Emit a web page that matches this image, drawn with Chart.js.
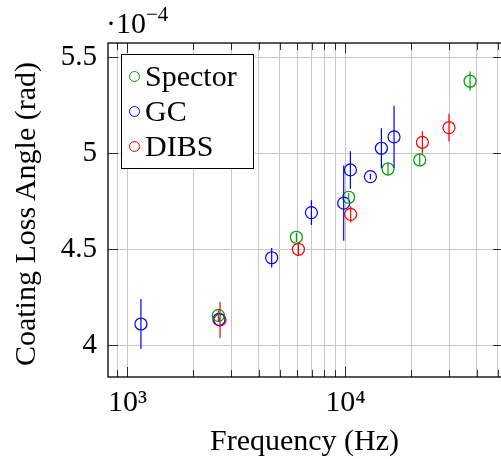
<!DOCTYPE html>
<html>
<head>
<meta charset="utf-8">
<script src="https://cdn.jsdelivr.net/npm/chart.js@4/dist/chart.umd.min.js"></script>
<style>
  html, body { margin:0; padding:0; background:#fff; }
  body { width:501px; height:459px; overflow:hidden; }
  #wrap { position:relative; width:520px; height:459px; }
  canvas { position:absolute; left:0; top:0; }
  .t { position:absolute; font-family:"Liberation Serif", "DejaVu Serif", serif; color:#000; white-space:nowrap; }
  .mk { position:absolute; width:9px; height:9px; border-radius:50%; border:1.2px solid; background:transparent; }
</style>
</head>
<body>
<div id="wrap">
  <canvas id="c" width="520" height="459"></canvas>
  <div class="t" id="expo" style="left:106px; top:3px; font-size:30px; line-height:40px;">·10<span style="font-size:21px; position:relative; top:-12px;">−4</span></div>
  <div class="t" style="left:104.5px; top:420px; width:400px; height:40px; font-size:30px; line-height:40px; text-align:center;">Frequency (Hz)</div>
  <div class="t" style="left:-174.6px; top:194px; width:400px; height:40px; font-size:30px; line-height:40px; text-align:center; transform:rotate(-90deg);">Coating Loss Angle (rad)</div>
  <div id="legend" style="position:absolute; left:121px; top:54px; width:131px; height:113px; border:1.2px solid #000; background:#fff;"></div>
</div>
<script>
// ---- data (loss angle in units of 1e-4 rad) ----
const freqSpector = [2615, 5957, 10350, 15680, 21920, 37290];
const lossSpector = [4.156, 4.5625, 4.771, 4.918, 4.965, 5.375];
const errSpector  = [0.03, 0.024, 0.022, 0.035, 0.03, 0.05];

const freqGC = [1154, 2630, 4590, 6982, 9820, 10540, 13020, 14620, 16710];
const lossGC = [4.111, 4.135, 4.456, 4.691, 4.740, 4.913, 4.878, 5.026, 5.085];
const errGC  = [0.13, 0.01, 0.051, 0.064, 0.196, 0.098, 0.015, 0.104, 0.162];

const freqDIBS = [2661, 6087, 10570, 22540, 29850];
const lossDIBS = [4.132, 4.5, 4.682, 5.057, 5.133];
const errDIBS  = [0.094, 0.035, 0.043, 0.058, 0.072];

const seriesNames = ['Spector', 'GC', 'DIBS'];

const xMajorTicks = [1000, 10000];
const xTickLabels = ['10³', '10⁴'];
const xMinorTicks = [900, 2000, 3000, 4000, 5000, 6000, 7000, 8000, 9000, 20000, 30000, 40000, 50000];
const yTicks = [4, 4.5, 5, 5.5];
const yTickLabels = ['4', '4.5', '5', '5.5'];

const xMin = 815, xMax = 52800;
const yMin = 3.835, yMax = 5.574;

// ---- styling ----
const colors = ['rgb(0,160,0)', 'rgb(0,0,255)', 'rgb(255,0,0)'];
const FONT = '"Liberation Serif", "DejaVu Serif", serif';
const gridColor = 'rgb(200,200,200)';

function pts(f, v) { return f.map((x, i) => ({ x: x, y: v[i] })); }
function errPts(f, v, e) {
  const out = [];
  f.forEach((x, i) => {
    out.push({ x: x, y: v[i] - e[i] });
    out.push({ x: x, y: v[i] + e[i] });
    out.push({ x: x, y: null });
  });
  return out;
}

const groups = [
  [freqSpector, lossSpector, errSpector],
  [freqGC, lossGC, errGC],
  [freqDIBS, lossDIBS, errDIBS]
];

const datasets = [];
groups.forEach((g, k) => {
  datasets.push({
    type: 'line', label: seriesNames[k] + ' err', data: errPts(g[0], g[1], g[2]),
    borderColor: colors[k], borderWidth: 1.2, pointRadius: 0, showLine: true, spanGaps: false, fill: false
  });
});
groups.forEach((g, k) => {
  datasets.push({
    type: 'scatter', label: seriesNames[k], data: pts(g[0], g[1]),
    borderColor: colors[k], backgroundColor: 'rgba(0,0,0,0)', pointStyle: 'circle',
    pointRadius: 6, borderWidth: 1.2
  });
});

const allXTicks = xMinorTicks.concat(xMajorTicks).sort((a, b) => a - b);

const framePlugin = {
  id: 'frame',
  afterDatasetsDraw(chart) {
    const ctx = chart.ctx, a = chart.chartArea;
    const xs = chart.scales.x, ys = chart.scales.y;
    ctx.save();
    ctx.strokeStyle = 'rgba(0,0,0,0.8)';
    ctx.lineWidth = 1;
    ctx.beginPath();
    allXTicks.forEach(v => {
      const len = xMajorTicks.includes(v) ? 10 : 7;
      const px = Math.round(xs.getPixelForValue(v)) + 0.5;
      ctx.moveTo(px, a.bottom); ctx.lineTo(px, a.bottom - len);
      ctx.moveTo(px, a.top); ctx.lineTo(px, a.top + len);
    });
    yTicks.forEach(v => {
      const py = Math.round(ys.getPixelForValue(v)) + 0.5;
      ctx.moveTo(a.left, py); ctx.lineTo(a.left + 10, py);
      ctx.moveTo(a.right, py); ctx.lineTo(a.right - 10, py);
    });
    ctx.stroke();
    ctx.strokeStyle = '#000';
    ctx.lineWidth = 1.3;
    ctx.strokeRect(a.left, a.top, a.right - a.left, a.bottom - a.top);
    ctx.restore();
  }
};

new Chart(document.getElementById('c'), {
  data: { datasets: datasets },
  options: {
    responsive: false,
    animation: false,
    devicePixelRatio: 1,
    events: [],
    layout: { padding: { left: 0, right: 17, top: 43, bottom: 0 } },
    plugins: { legend: { display: false }, tooltip: { enabled: false }, title: { display: false } },
    scales: {
      x: {
        type: 'logarithmic', position: 'bottom', min: xMin, max: xMax,
        afterBuildTicks: s => { s.ticks = allXTicks.map(v => ({ value: v })); },
        afterFit: s => { s.height = 82; },
        grid: { color: gridColor, lineWidth: 1, drawTicks: false },
        border: { display: false },
        ticks: {
          autoSkip: false, maxRotation: 0, padding: 8, color: '#000',
          font: { family: FONT, size: 30 },
          callback: v => { const i = xMajorTicks.indexOf(v); return i >= 0 ? xTickLabels[i] : ''; }
        }
      },
      y: {
        type: 'linear', position: 'left', min: yMin, max: yMax,
        afterBuildTicks: s => { s.ticks = yTicks.map(v => ({ value: v })); },
        afterFit: s => { s.width = 108; },
        grid: { color: gridColor, lineWidth: 1, drawTicks: false },
        border: { display: false },
        ticks: {
          autoSkip: false, padding: 11, color: '#000',
          font: { family: FONT, size: 29 },
          callback: v => { const i = yTicks.indexOf(v); return i >= 0 ? yTickLabels[i] : ''; }
        }
      }
    }
  },
  plugins: [framePlugin]
});

// ---- legend (HTML) ----
const lg = document.getElementById('legend');
seriesNames.forEach((n, k) => {
  const m = document.createElement('span');
  m.className = 'mk';
  m.style.borderColor = colors[k];
  m.style.left = '7px';
  m.style.top = (16 + 35 * k) + 'px';
  lg.appendChild(m);
  const t = document.createElement('div');
  t.className = 't';
  t.style.left = '23px';
  t.style.top = (3 + 35 * k) + 'px';
  t.style.fontSize = '30px';
  t.style.lineHeight = '35px';
  t.textContent = n;
  lg.appendChild(t);
});
</script>
</body>
</html>
